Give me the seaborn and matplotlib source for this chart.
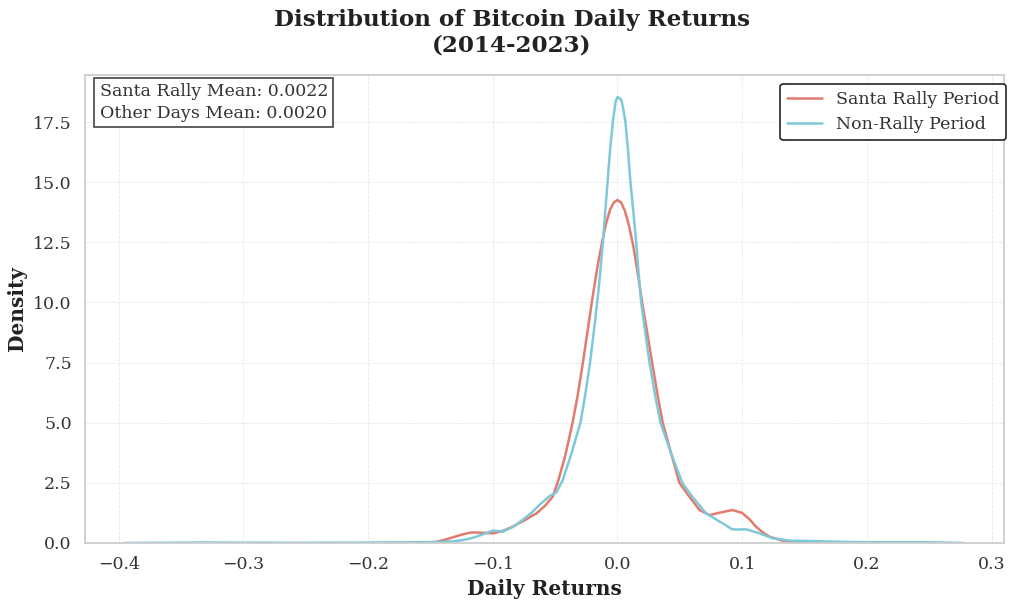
import matplotlib
matplotlib.use("Agg")
import matplotlib.pyplot as plt
import seaborn as sns
import pandas as pd

# Santa Rally Period KDE
santa_x = [-0.172, -0.160, -0.150, -0.145, -0.138, -0.131, -0.124, -0.117, -0.107, -0.100,
           -0.092, -0.084, -0.075, -0.065, -0.058, -0.052, -0.048, -0.042, -0.036, -0.032,
           -0.028, -0.024, -0.020, -0.016, -0.012, -0.009, -0.006, -0.003, 0.0, 0.003,
           0.006, 0.009, 0.0125, 0.016, 0.0198, 0.024, 0.0278, 0.032, 0.0363, 0.043,
           0.0497, 0.0577, 0.0658, 0.0738, 0.082, 0.092, 0.100, 0.106, 0.111, 0.117,
           0.122, 0.132, 0.146, 0.162]
santa_y = [0.0, 0.01, 0.03, 0.05, 0.14, 0.25, 0.36, 0.44, 0.42, 0.40,
           0.50, 0.68, 0.93, 1.23, 1.55, 1.92, 2.5, 3.6, 5.0, 6.1,
           7.4, 8.8, 10.2, 11.5, 12.6, 13.3, 13.85, 14.15, 14.26, 14.15,
           13.8, 13.25, 12.4, 11.3, 10.0, 8.7, 7.5, 6.2, 5.0, 3.73,
           2.5, 1.92, 1.37, 1.16, 1.26, 1.37, 1.25, 0.98, 0.68, 0.42,
           0.26, 0.10, 0.02, 0.0]

# Non-Rally Period KDE
other_x = [-0.395, -0.335, -0.255, -0.190, -0.160, -0.143, -0.132, -0.124, -0.117, -0.111,
           -0.105, -0.100, -0.096, -0.092, -0.084, -0.076, -0.069, -0.0626, -0.0545, -0.049,
           -0.044, -0.037, -0.0297, -0.026, -0.022, -0.018, -0.015, -0.012, -0.009, -0.006,
           -0.0035, -0.0015, 0.0, 0.0015, 0.0032, 0.0048, 0.0064, 0.0085, 0.0104,
           0.0127, 0.015, 0.017, 0.019, 0.0225, 0.0257, 0.030, 0.0345, 0.043, 0.052,
           0.060, 0.066, 0.071, 0.082, 0.092, 0.098, 0.103, 0.114, 0.124, 0.138,
           0.162, 0.186, 0.210, 0.250, 0.277]
other_y = [0.0, 0.02, 0.01, 0.02, 0.03, 0.04, 0.07, 0.12, 0.20, 0.30,
           0.42, 0.51, 0.50, 0.47, 0.66, 0.96, 1.25, 1.58, 1.95, 2.1,
           2.6, 3.7, 5.0, 6.1, 7.5, 9.2, 10.6, 12.3, 14.3, 16.3,
           17.6, 18.35, 18.54, 18.5, 18.4, 18.0, 17.5, 16.3, 15.0,
           13.8, 12.5, 11.2, 10.0, 8.7, 7.5, 6.2, 5.0, 3.73, 2.5,
           1.92, 1.55, 1.23, 0.89, 0.57, 0.56, 0.57, 0.40, 0.20, 0.10,
           0.07, 0.04, 0.03, 0.03, 0.0]

series_names = ["Santa Rally Period", "Non-Rally Period"]
series_colors = ["#E07B6E", "#7EC8DA"]
x_ticks = [-0.4, -0.3, -0.2, -0.1, 0.0, 0.1, 0.2, 0.3]
y_ticks = [0.0, 2.5, 5.0, 7.5, 10.0, 12.5, 15.0, 17.5]
santa_mean = 0.0022
other_mean = 0.0020

df = pd.concat([
    pd.DataFrame({"x": santa_x, "y": santa_y, "Period": series_names[0]}),
    pd.DataFrame({"x": other_x, "y": other_y, "Period": series_names[1]}),
], ignore_index=True)

sns.set_theme(style="whitegrid")
plt.rcParams["font.family"] = ["DejaVu Serif"]

fig = plt.figure(figsize=(10.24, 6.06), dpi=100)
ax = fig.add_axes([0.083, 0.104, 0.8975, 0.772])

sns.lineplot(data=df, x="x", y="y", hue="Period", palette=series_colors,
             sort=False, estimator=None, linewidth=1.8, ax=ax)

ax.set_xlim(-0.427, 0.31)
ax.set_ylim(0, 19.45)
ax.set_xticks(x_ticks)
ax.set_yticks(y_ticks)
ax.tick_params(axis="both", labelsize=12.5, colors="#333333")
ax.grid(True, linestyle="--", color="#e2e2e2", linewidth=0.6, alpha=0.8)
for s in ax.spines.values():
    s.set_color("#cccccc")

ax.set_xlabel("Daily Returns", fontsize=14.5, fontweight="bold", color="#222222")
ax.set_ylabel("Density", fontsize=14.5, fontweight="bold", color="#222222")
fig.suptitle("Distribution of Bitcoin Daily Returns\n(2014-2023)", fontsize=16.6,
             fontweight="bold", color="#222222", y=0.985)

leg = ax.legend(loc="upper right", bbox_to_anchor=(1.012, 1.0), fontsize=12.5,
                frameon=True, fancybox=True)
leg.get_frame().set_edgecolor("#222222")
leg.get_frame().set_linewidth(1.2)
leg.get_frame().set_alpha(1)
for t in leg.get_texts():
    t.set_color("#333333")

ax.text(0.016, 0.983,
        f"Santa Rally Mean: {santa_mean:.4f}\nOther Days Mean: {other_mean:.4f}",
        transform=ax.transAxes, fontsize=12.5, va="top", ha="left", color="#333333",
        linespacing=1.35,
        bbox=dict(boxstyle="square,pad=0.3", facecolor="white", edgecolor="#444444",
                  linewidth=1.2))

fig.savefig("out.png", dpi=100)
